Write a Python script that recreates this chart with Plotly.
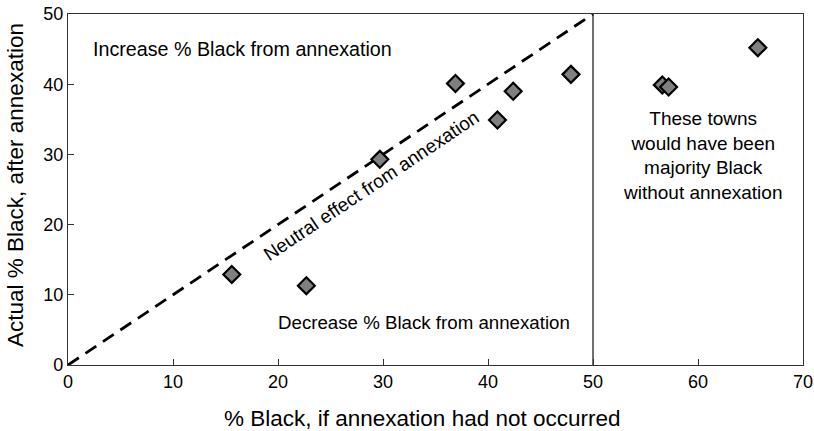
import plotly.graph_objects as go

# Data
pct_black_without = [15.6, 22.7, 29.7, 36.9, 40.9, 42.4, 47.9, 56.6, 57.2, 65.7]
pct_black_actual = [12.9, 11.3, 29.3, 40.1, 34.9, 39.0, 41.4, 39.9, 39.6, 45.2]
neutral_x = [0, 50]
neutral_y = [0, 50]
divider_x = [50, 50]
divider_y = [0, 50]
x_ticks = [0, 10, 20, 30, 40, 50, 60, 70]
y_ticks = [0, 10, 20, 30, 40, 50]

font = "Liberation Sans, Arial, sans-serif"

fig = go.Figure()
fig.add_trace(go.Scatter(x=neutral_x, y=neutral_y, mode="lines",
                         line=dict(color="black", width=2.8, dash="13px,8px"),
                         showlegend=False, hoverinfo="skip"))
fig.add_trace(go.Scatter(x=divider_x, y=divider_y, mode="lines",
                         line=dict(color="#222222", width=1.3),
                         showlegend=False, hoverinfo="skip"))
fig.add_trace(go.Scatter(x=pct_black_without, y=pct_black_actual, mode="markers",
                         marker=dict(symbol="diamond", size=13, color="#808080",
                                     line=dict(color="black", width=2.2)),
                         showlegend=False))

fig.add_annotation(x=2.2, y=45.0, xref="x", yref="y", text="Increase % Black from annexation",
                   showarrow=False, xanchor="left", font=dict(family=font, size=19.7, color="black"))
fig.add_annotation(x=48.0, y=6.1, xref="x", yref="y", text="Decrease % Black from annexation",
                   showarrow=False, xanchor="right", font=dict(family=font, size=18.7, color="black"))
fig.add_annotation(x=28.9, y=25.6, xref="x", yref="y", text="Neutral effect from annexation",
                   showarrow=False, textangle=-33.7, font=dict(family=font, size=19, color="black"))
fig.add_annotation(x=60.4, y=29.9, xref="x", yref="y",
                   text="These towns<br>would have been<br>majority Black<br>without annexation",
                   showarrow=False, font=dict(family=font, size=19, color="black"))

# axis titles
fig.add_annotation(x=0.4823, y=-0.151, xref="paper", yref="paper",
                   text="% Black, if annexation had not occurred", showarrow=False,
                   xanchor="center", yanchor="middle",
                   font=dict(family=font, size=22.5, color="black"))
fig.add_annotation(x=-0.0721, y=0.5128, xref="paper", yref="paper",
                   text="Actual % Black, after annexation", showarrow=False, textangle=-90,
                   xanchor="center", yanchor="middle",
                   font=dict(family=font, size=22.5, color="black"))

axis_common = dict(showgrid=False, zeroline=False, showline=True, mirror=True,
                   linecolor="#333333", linewidth=1.3, ticks="inside", ticklen=6,
                   tickcolor="#333333", tickwidth=1, automargin=False,
                   tickfont=dict(family=font, size=18, color="black"))
fig.update_xaxes(range=[0, 70], tickvals=x_ticks, **axis_common)
fig.update_yaxes(range=[0, 50], tickvals=y_ticks, **axis_common)

fig.update_layout(width=814, height=431, margin=dict(l=68, r=11, t=14, b=66),
                  plot_bgcolor="white", paper_bgcolor="white")

fig.write_html("out.html", config={"displayModeBar": False},
               post_script="document.body.style.margin='0';")
